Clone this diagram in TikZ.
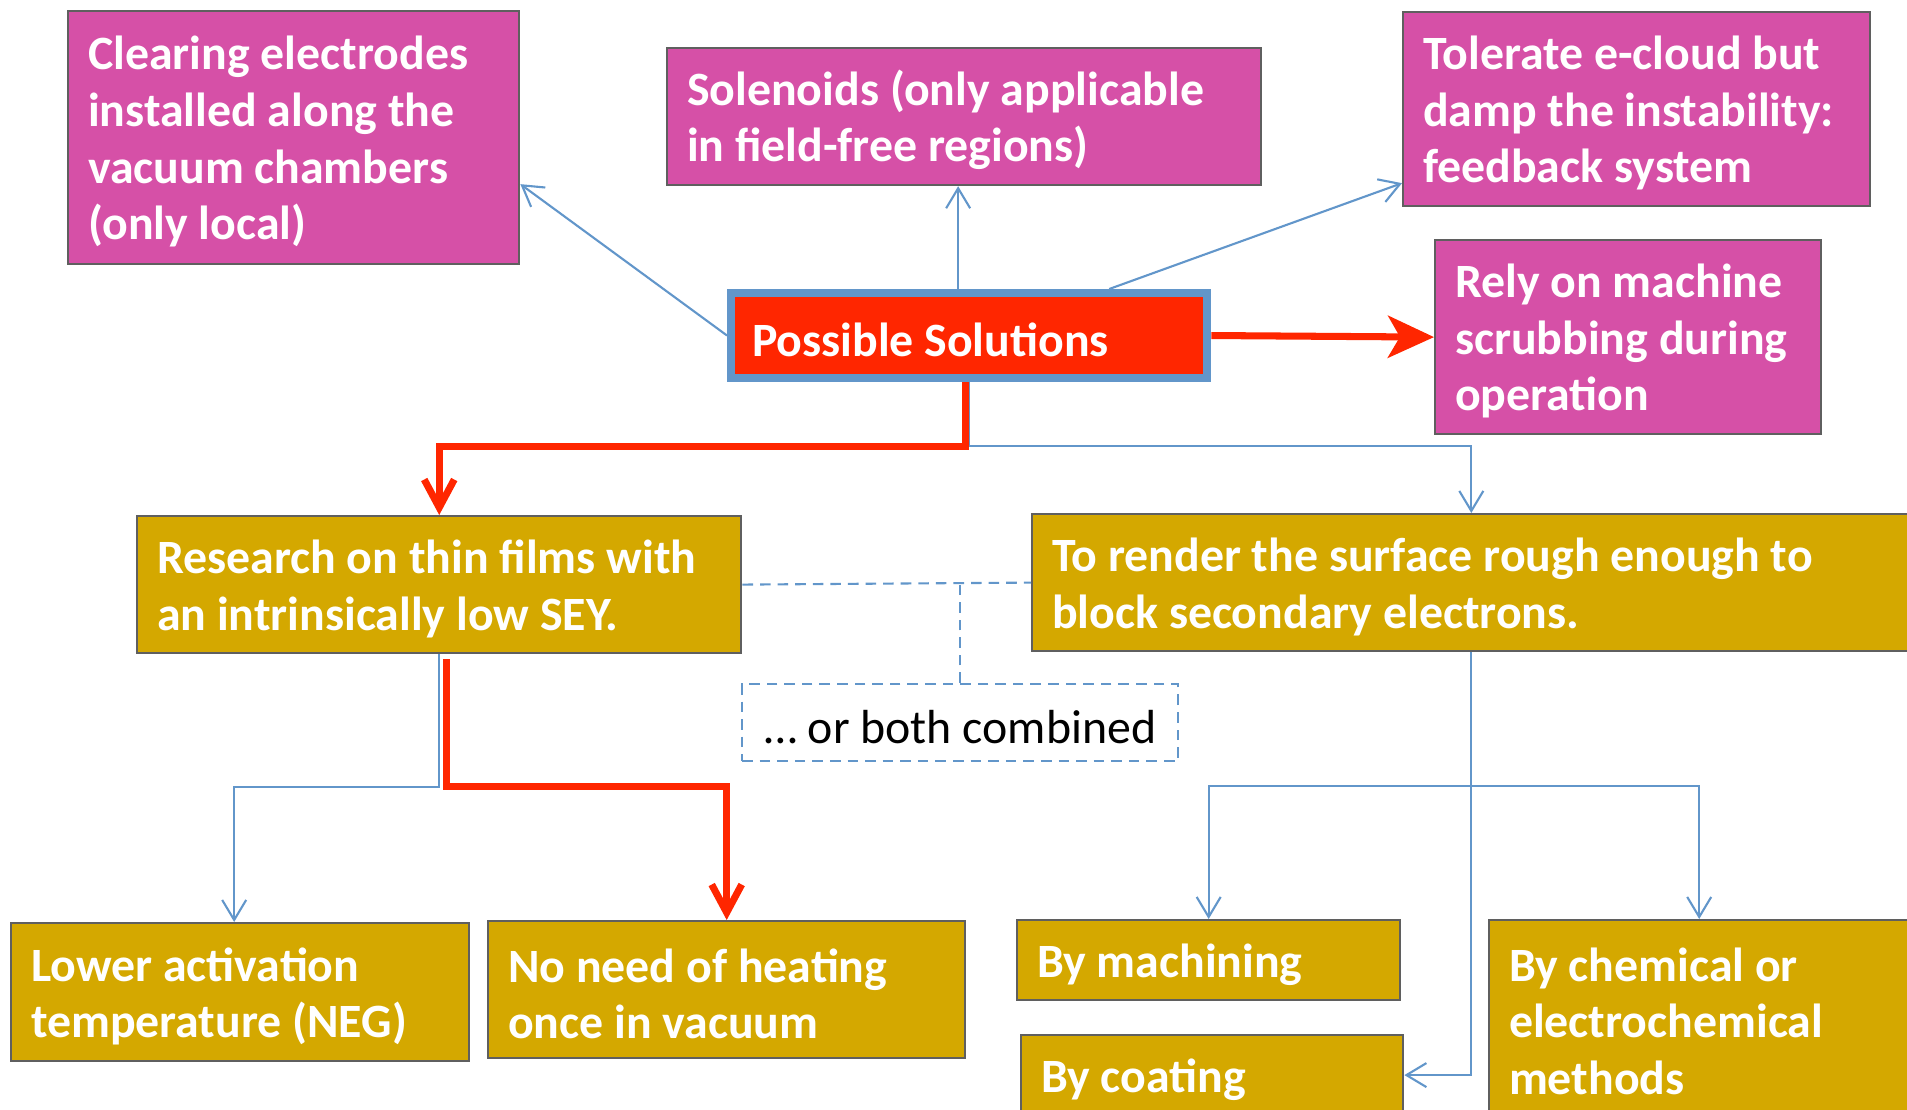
\documentclass[tikz,border=0pt]{standalone}
\usepackage{fontspec}
\setmainfont{Carlito}
\usetikzlibrary{arrows.meta}
\definecolor{pinkfill}{RGB}{214,80,167}
\definecolor{goldfill}{RGB}{212,168,0}
\definecolor{redline}{RGB}{255,38,0}
\definecolor{blueline}{RGB}{98,150,202}
\definecolor{edgegray}{RGB}{95,95,95}
\begin{document}
\begin{tikzpicture}[x=0.01cm,y=-0.01cm,
    box/.style={draw=edgegray,line width=0.6pt,align=flush left,anchor=north west,
        inner xsep=0.2cm,inner ysep=0pt,text=white,
        font=\fontsize{13.6pt}{16.1pt}\selectfont\bfseries,
        execute at begin node={\rule{0pt}{0.42cm}}},
    pinknode/.style={box,fill=pinkfill},
    goldnode/.style={box,fill=goldfill},
    bluearrow/.style={blueline,line width=0.6pt,-{Straight Barb[length=0.2cm,width=0.24cm]}},
    redarrow/.style={redline,line width=2pt,-{Straight Barb[length=0.28cm,width=0.3cm]}},
    dashline/.style={blueline,line width=0.6pt,dash pattern=on 3pt off 2pt}]
    
    \def\W{1907}
    \def\H{1110}
    \useasboundingbox (0,0) rectangle (\W,\H);
    \clip (0,0) rectangle (\W,\H);
    
    %top row
    \node[pinknode,text width=4.11cm,minimum height=2.53cm] (clear) at (67,10) {Clearing electrodes\\installed along the\\vacuum chambers\\(only local)};
    \node[pinknode,text width=5.54cm,minimum height=1.37cm] (sol) at (666,47) {Solenoids (only applicable\\in field-free regions)};
    \node[pinknode,text width=4.27cm,minimum height=1.94cm] (tol) at (1402,11) {Tolerate e-cloud but\\damp the instability:\\feedback system};
    \node[pinknode,text width=3.46cm,minimum height=1.94cm] (rely) at (1434,239) {Rely on machine\\scrubbing during\\operation};
    \node[box,fill=redline,draw=blueline,line width=0.08cm,inner xsep=0.21cm,text width=4.34cm,minimum height=0.85cm] (ps) at (727,289) {Possible Solutions};
    
    %middle row
    \node[goldnode,text width=5.64cm,minimum height=1.37cm] (research) at (136,515) {Research on thin films with\\an intrinsically low SEY.};
    \node[goldnode,text width=8.38cm,minimum height=1.37cm] (render) at (1031,513) {To render the surface rough enough to\\block secondary electrons.};
    \node[box,draw=blueline,dash pattern=on 3pt off 2pt,text=black,font=\fontsize{13.6pt}{16.1pt}\selectfont,align=center,minimum width=4.36cm,minimum height=0.77cm] (combo) at (741,683) {… or both combined};
    
    %bottom row
    \node[goldnode,text width=4.18cm,minimum height=1.38cm] (lower) at (10,922) {Lower activation\\temperature (NEG)};
    \node[goldnode,text width=4.37cm,minimum height=1.37cm] (noneed) at (487,920) {No need of heating\\once in vacuum};
    \node[goldnode,text width=3.43cm,minimum height=0.8cm] (mach) at (1016,919) {By machining};
    \node[goldnode,text width=3.42cm,minimum height=0.8cm] (coat) at (1020,1034) {By coating};
    \node[goldnode,text width=3.8cm,minimum height=1.94cm] (chem) at (1488,919) {By chemical or\\electrochemical\\methods};
    
    \draw[bluearrow] (ps.west) -- ([yshift=-0.465cm]clear.east);
    \draw[bluearrow] ([xshift=-0.11cm]ps.north) -- ([xshift=-0.11cm]ps.north |- sol.south);
    \draw[bluearrow] ([xshift=1.4cm]ps.north) -- ([yshift=-0.74cm]tol.west);
    \draw[redline,line width=2pt,-{Stealth[length=0.46cm,width=0.42cm,inset=0.12cm]}] (ps.east) -- (rely.west);
    \draw[bluearrow] (ps.south) -- ++(0,64) -| (render.north);
    \draw[redarrow] ([xshift=-0.04cm]ps.south) -- ++(0,64) -| (research.north);
    \draw[bluearrow] (research.south) -- ++(0,133) -| ([xshift=-0.06cm]lower.north);
    \draw[redarrow] ([xshift=0.07cm,yshift=-0.05cm]research.south) -- ++(0,127) -| (noneed.north);
    \foreach \n in {mach,chem}
        \draw[bluearrow] (render.south) -- ++(0,134) -| (\n.north);
    \draw[bluearrow] (render.south) |- (coat.east);
    \draw[dashline] (research.east) -- (render.west);
    \draw[dashline] (combo.north) -- (combo.north |- research.east);
\end{tikzpicture}
\end{document}
